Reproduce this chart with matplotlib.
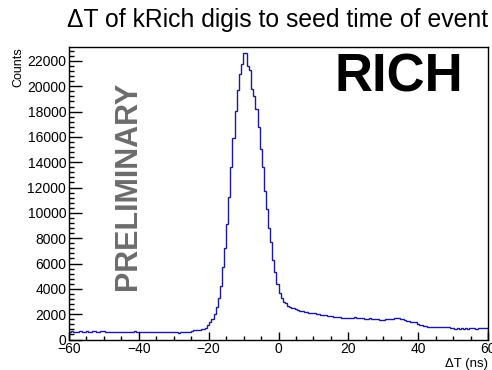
import numpy as np
import matplotlib
matplotlib.use("Agg")
import matplotlib.pyplot as plt
from matplotlib.ticker import MultipleLocator

plt.rcParams['font.family'] = ['Liberation Sans', 'DejaVu Sans']

# histogram: 200 bins of 0.6 ns from -60 to 60 ns
t_lo, t_hi, n_bins = -60.0, 60.0, 200
counts = [
    610, 640, 620, 600, 630, 650, 620, 610, 640, 630,
    620, 650, 640, 610, 630, 680, 640, 620, 610, 630,
    620, 600, 610, 590, 620, 600, 610, 590, 600, 620,
    610, 640, 600, 620, 610, 630, 600, 590, 610, 620,
    600, 620, 610, 590, 600, 580, 570, 590, 560, 570,
    560, 580, 550, 570, 560, 580, 570, 600, 650, 760,
    770, 780, 780, 790, 800, 920, 1130, 1370, 1640, 2030,
    2550, 3270, 4190, 5720, 7250, 9150, 11250, 13620, 15910, 18020,
    19680, 20930, 21790, 22660, 22600, 21600, 21300, 19800, 19200, 18200,
    16800, 15050, 13600, 11700, 10300, 8800, 7700, 6300, 5300, 4400,
    3700, 3300, 3000, 2850, 2650, 2600, 2500, 2450, 2400, 2330,
    2280, 2240, 2200, 2150, 2120, 2100, 2080, 2060, 2020, 1990,
    1970, 1950, 1930, 1880, 1860, 1820, 1790, 1770, 1750, 1740,
    1720, 1700, 1690, 1710, 1680, 1720, 1740, 1700, 1730, 1690,
    1670, 1650, 1640, 1660, 1610, 1600, 1580, 1590, 1560, 1550,
    1560, 1580, 1600, 1630, 1650, 1680, 1670, 1660, 1640, 1600,
    1560, 1490, 1450, 1420, 1400, 1350, 1260, 1180, 1120, 1060,
    1030, 1010, 1000, 990, 970, 990, 960, 980, 1000, 1020,
    1000, 960, 900, 870, 860, 880, 850, 870, 860, 880,
    860, 870, 900, 880, 850, 870, 890, 880, 870, 900,
]
x_ticks = [-60, -40, -20, 0, 20, 40, 60]
y_ticks = list(range(0, 22001, 2000))

edges = np.linspace(t_lo, t_hi, n_bins + 1)

W, H = 492, 370
fig = plt.figure(figsize=(W / 100, H / 100), dpi=100)
ax = fig.add_axes([69 / W, 1 - 339.5 / H, 419 / W, 292.5 / H])

ax.stairs(counts, edges, color='#1a1aa0', lw=1.0)

ax.set_xlim(t_lo, t_hi)
ax.set_ylim(0, 23100)
ax.set_xticks(x_ticks)
ax.set_yticks(y_ticks)
ax.xaxis.set_minor_locator(MultipleLocator(5))
ax.yaxis.set_minor_locator(MultipleLocator(400))
ax.tick_params(axis='x', which='major', direction='in', length=5.8, width=1.0,
               labelsize=10, pad=2)
ax.tick_params(axis='x', which='minor', direction='in', length=2.9, width=1.0)
ax.tick_params(axis='y', which='major', direction='in', length=9.4, width=1.0,
               labelsize=10, pad=2)
ax.tick_params(axis='y', which='minor', direction='in', length=3.6, width=1.0)
for s in ax.spines.values():
    s.set_linewidth(1.0)

# titles placed the ROOT way
fig.text(67 / W, 1 - 27 / H, 'ΔT of kRich digis to seed time of event',
         fontsize=17.8, ha='left', va='baseline')
ax.set_xlabel('ΔT (ns)', fontsize=9.5, loc='right', labelpad=1)
ax.set_ylabel('Counts', fontsize=9, loc='top', labelpad=2)

fig.text(128 / W, 1 - 186 / H, 'PRELIMINARY', rotation=90, fontsize=22,
         fontweight='bold', color='#6c6c6c', ha='center', va='center')
fig.text(399 / W, 1 - 77.5 / H, 'RICH', fontsize=38, fontweight='bold',
         color='black', ha='center', va='center')

fig.savefig('out.png', dpi=100, facecolor='white')
